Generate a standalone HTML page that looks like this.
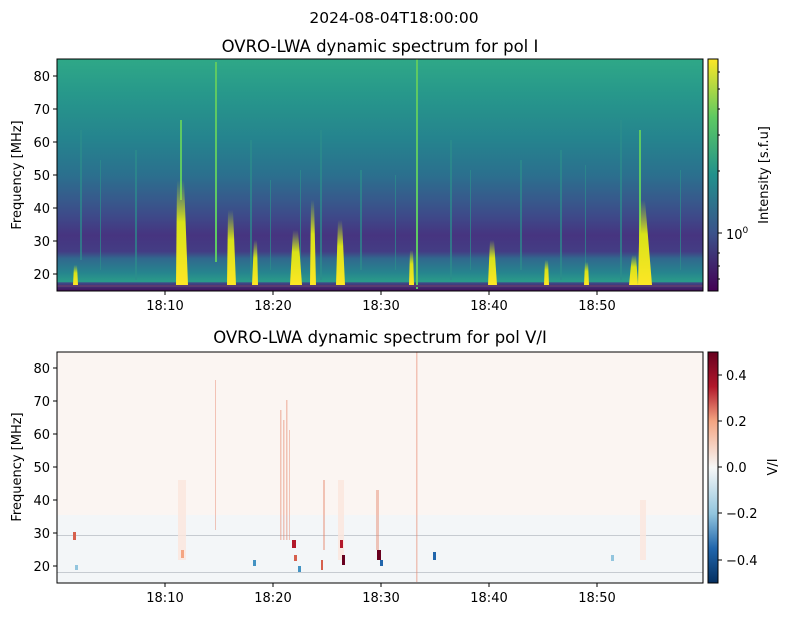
<!DOCTYPE html>
<html><head><meta charset="utf-8"><style>
body{margin:0;background:#fff;}
svg text{font-family:"DejaVu Sans","Liberation Sans",sans-serif;fill:#000;}
</style></head><body>
<svg width="789" height="617" viewBox="0 0 789 617" xmlns="http://www.w3.org/2000/svg">
<defs>
<linearGradient id="gI" x1="0" y1="0" x2="0" y2="1">
<stop offset="0" stop-color="#2fa887"/>
<stop offset="0.15" stop-color="#27988b"/>
<stop offset="0.35" stop-color="#25838e"/>
<stop offset="0.5" stop-color="#2b708e"/>
<stop offset="0.6" stop-color="#365b8c"/>
<stop offset="0.68" stop-color="#3e4989"/>
<stop offset="0.76" stop-color="#463480"/>
<stop offset="0.83" stop-color="#433d84"/>
<stop offset="0.86" stop-color="#31688e"/>
<stop offset="0.92" stop-color="#26848e"/>
<stop offset="0.96" stop-color="#2a9c89"/>
<stop offset="0.965" stop-color="#3e4989"/>
<stop offset="1" stop-color="#440f58"/>
</linearGradient>
<linearGradient id="cbI" x1="0" y1="1" x2="0" y2="0">
<stop offset="0" stop-color="#440154"/><stop offset="0.25" stop-color="#3b528b"/>
<stop offset="0.5" stop-color="#21918c"/><stop offset="0.75" stop-color="#5ec962"/>
<stop offset="1" stop-color="#fde725"/>
</linearGradient>
<linearGradient id="cbV" x1="0" y1="1" x2="0" y2="0">
<stop offset="0" stop-color="#053061"/><stop offset="0.15" stop-color="#2166ac"/>
<stop offset="0.3" stop-color="#92c5de"/><stop offset="0.5" stop-color="#f7f7f7"/>
<stop offset="0.7" stop-color="#f4a582"/><stop offset="0.85" stop-color="#b2182b"/>
<stop offset="1" stop-color="#67001f"/>
</linearGradient>
<linearGradient id="burst" x1="0" y1="0" x2="0" y2="1">
<stop offset="0" stop-color="#b5de2b" stop-opacity="0"/><stop offset="0.4" stop-color="#d8e219"/><stop offset="1" stop-color="#fde725"/>
</linearGradient>
</defs>
<text x="394" y="23" font-size="15.5" text-anchor="middle">2024-08-04T18:00:00</text>
<text x="380" y="52" font-size="16.5" text-anchor="middle">OVRO-LWA dynamic spectrum for pol I</text>
<!-- top plot -->
<rect x="57" y="59" width="646" height="232" fill="url(#gI)"/>
<g fill="#2c8e8c" opacity="0.7">
<rect x="80" y="130" width="2" height="130"/><rect x="100" y="160" width="1" height="110"/>
<rect x="135" y="150" width="2" height="130"/><rect x="250" y="140" width="2" height="140"/>
<rect x="320" y="130" width="2" height="150"/><rect x="450" y="140" width="2" height="140"/>
<rect x="560" y="150" width="2" height="130"/><rect x="620" y="120" width="2" height="160"/>
<rect x="360" y="170" width="2" height="100"/><rect x="520" y="160" width="2" height="110"/>
<rect x="270" y="180" width="1" height="90"/><rect x="300" y="170" width="1" height="100"/>
<rect x="395" y="175" width="1" height="95"/><rect x="470" y="170" width="1" height="100"/>
<rect x="585" y="165" width="1" height="105"/><rect x="680" y="170" width="1" height="100"/>
</g>
<g fill="#5ec962">
<rect x="215" y="62" width="2" height="200"/><rect x="416" y="59" width="2" height="230"/>
<rect x="639" y="130" width="2" height="120"/><rect x="180" y="120" width="2" height="80"/>
</g>
<g fill="url(#burst)">
<path d="M177 180 L184 180 L188 285 L176 285Z"/>
<path d="M228 210 L233 210 L236 285 L227 285Z"/>
<path d="M293 230 L298 230 L302 285 L290 285Z"/>
<path d="M338 220 L342 220 L345 285 L336 285Z"/>
<path d="M490 240 L494 240 L497 285 L488 285Z"/>
<path d="M640 200 L645 200 L652 285 L638 285Z"/>
<path d="M632 255 L636 255 L638 285 L629 285Z"/>
<path d="M311 200 L314 200 L316 285 L310 285Z"/>
<path d="M254 240 L257 240 L258 285 L252 285Z"/>
<path d="M545 260 L548 260 L549 285 L544 285Z"/>
<path d="M585 262 L588 262 L589 285 L584 285Z"/>
<path d="M410 250 L413 250 L414 285 L409 285Z"/>
<path d="M74 265 L77 265 L78 285 L73 285Z"/>
</g>
<rect x="57" y="285" width="646" height="2" fill="#5b3a70"/>
<rect x="57" y="59" width="646" height="232" fill="none" stroke="#000" stroke-width="1"/>
<g font-size="13" text-anchor="end">
<text x="50" y="81">80</text><text x="50" y="114">70</text><text x="50" y="147">60</text>
<text x="50" y="180">50</text><text x="50" y="213">40</text><text x="50" y="246">30</text><text x="50" y="279">20</text>
</g>
<g stroke="#000"><path d="M53 76h4M53 109h4M53 142h4M53 175h4M53 208h4M53 241h4M53 274h4"/>
<path d="M165 291v4M273 291v4M381 291v4M489 291v4M597 291v4"/></g>
<g font-size="13" text-anchor="middle">
<text x="165" y="310">18:10</text><text x="273" y="310">18:20</text><text x="381" y="310">18:30</text><text x="489" y="310">18:40</text><text x="597" y="310">18:50</text>
</g>
<text transform="translate(21,175) rotate(-90)" font-size="13" text-anchor="middle">Frequency [MHz]</text>
<rect x="708" y="59" width="10" height="232" fill="url(#cbI)" stroke="#000"/>
<g stroke="#000"><path d="M718 233h4M718 72h2M718 89h2M718 109h2M718 135h2M718 171h2M718 253h2M718 266h2M718 279h2"/></g>
<text x="726" y="239" font-size="13">10<tspan font-size="9" dy="-6">0</tspan></text>
<text transform="translate(768,175) rotate(-90)" font-size="13" text-anchor="middle">Intensity [s.f.u]</text>
<!-- bottom plot -->
<text x="380" y="343" font-size="16.5" text-anchor="middle">OVRO-LWA dynamic spectrum for pol V/I</text>
<rect x="57" y="352" width="646" height="231" fill="#fbf5f2"/>
<rect x="57" y="515" width="646" height="68" fill="#f3f6f8"/>
<rect x="57" y="535" width="646" height="1" fill="#9aa0aa" opacity="0.5"/>
<rect x="57" y="572" width="646" height="1" fill="#9aa0aa" opacity="0.5"/>
<g fill="#e7866b" opacity="0.45">
<rect x="280" y="410" width="1.5" height="130"/><rect x="283" y="420" width="1.5" height="120"/>
<rect x="286" y="400" width="1.5" height="140"/><rect x="289" y="430" width="1" height="110"/>
<rect x="416" y="352" width="1.5" height="230"/><rect x="215" y="380" width="1" height="150"/>
<rect x="376" y="490" width="3" height="60"/><rect x="323" y="480" width="2" height="70"/>
</g>
<g fill="#fbe6dc" opacity="0.8">
<rect x="178" y="480" width="8" height="80"/><rect x="338" y="480" width="6" height="80"/><rect x="640" y="500" width="6" height="60"/>
</g>
<g>
<rect x="292" y="540" width="4" height="8" fill="#b2182b"/><rect x="294" y="555" width="3" height="6" fill="#d6604d"/>
<rect x="340" y="540" width="3" height="8" fill="#b2182b"/><rect x="342" y="555" width="3" height="10" fill="#67001f"/>
<rect x="377" y="550" width="4" height="10" fill="#67001f"/><rect x="380" y="560" width="3" height="6" fill="#2166ac"/>
<rect x="433" y="552" width="3" height="8" fill="#2166ac"/><rect x="298" y="566" width="3" height="6" fill="#4393c3"/>
<rect x="321" y="560" width="2" height="10" fill="#d6604d"/><rect x="181" y="550" width="3" height="8" fill="#f4a582"/>
<rect x="73" y="532" width="3" height="8" fill="#d6604d"/><rect x="75" y="565" width="3" height="5" fill="#92c5de"/>
<rect x="253" y="560" width="3" height="6" fill="#4393c3"/><rect x="611" y="555" width="3" height="6" fill="#92c5de"/>
</g>
<rect x="57" y="352" width="646" height="231" fill="none" stroke="#000"/>
<g font-size="13" text-anchor="end">
<text x="50" y="373">80</text><text x="50" y="406">70</text><text x="50" y="439">60</text>
<text x="50" y="472">50</text><text x="50" y="505">40</text><text x="50" y="538">30</text><text x="50" y="571">20</text>
</g>
<g stroke="#000"><path d="M53 368h4M53 401h4M53 434h4M53 467h4M53 500h4M53 533h4M53 566h4"/>
<path d="M165 583v4M273 583v4M381 583v4M489 583v4M597 583v4"/></g>
<g font-size="13" text-anchor="middle">
<text x="165" y="602">18:10</text><text x="273" y="602">18:20</text><text x="381" y="602">18:30</text><text x="489" y="602">18:40</text><text x="597" y="602">18:50</text>
</g>
<text transform="translate(21,467) rotate(-90)" font-size="13" text-anchor="middle">Frequency [MHz]</text>
<rect x="708" y="352" width="10" height="231" fill="url(#cbV)" stroke="#000"/>
<g stroke="#000"><path d="M718 375h4M718 421h4M718 467h4M718 513h4M718 560h4"/></g>
<g font-size="13">
<text x="726" y="380">0.4</text><text x="726" y="426">0.2</text><text x="726" y="472">0.0</text>
<text x="726" y="518">−0.2</text><text x="726" y="565">−0.4</text>
</g>
<text transform="translate(777,467) rotate(-90)" font-size="13" text-anchor="middle">V/I</text>
</svg>
</body></html>
